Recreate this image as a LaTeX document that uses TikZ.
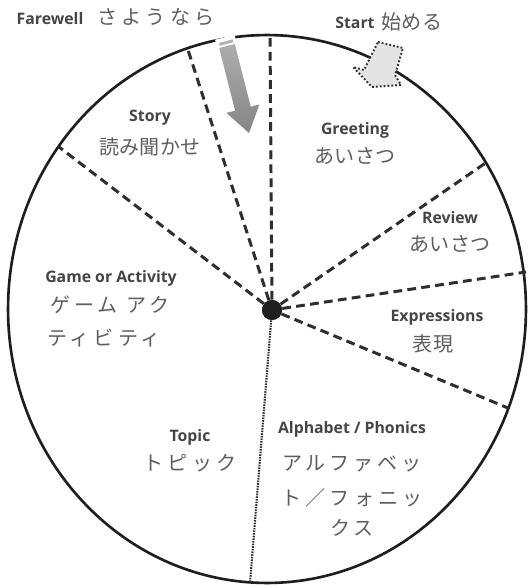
\documentclass[tikz,border=0pt]{standalone}
\usepackage{fontspec}
\setmainfont{Open Sans}
\newfontfamily\jpfont{Noto Sans CJK JP}
\newfontfamily\jpwide[LetterSpace=20]{Noto Sans CJK JP}
\definecolor{entext}{HTML}{454545}
\definecolor{jptext}{HTML}{5E5E5E}
\definecolor{linec}{HTML}{2E2E2E}
\definecolor{rimc}{HTML}{1E1E1E}
\begin{document}
\begin{tikzpicture}[x=0.02cm,y=-0.02cm,
  en/.style={font=\fontsize{9}{11}\selectfont\bfseries, text=entext, inner sep=0pt},
  jp/.style={font=\fontsize{11.4}{13}\selectfont\jpfont, text=jptext, inner sep=0pt},
  jpw/.style={font=\fontsize{11.4}{13}\selectfont\jpwide, text=jptext, inner sep=0pt},
  divider/.style={draw=linec, line width=1.7pt, dash pattern=on 5pt off 3pt},
  fineline/.style={draw=linec, line width=1.2pt, dash pattern=on 0.9pt off 0.6pt},
  rim/.style={draw=rimc, line width=1.5pt},
  hub/.style={circle, fill=rimc, minimum size=0.4cm, inner sep=0pt},
  startarrow/.style={fill=black!11, draw=linec, line width=1.1pt, dash pattern=on 1pt off 1.2pt},
  farearrow/.style={top color=black!32, bottom color=black!48, draw=none}]
\useasboundingbox (0,0) rectangle (528,587);
\fill[white] (0,0) rectangle (528,587);
% rim
\draw[rim] (267,309) ellipse [x radius=5.18cm, y radius=5.48cm];
% hub and rim points
\node[hub] (c) at (272,310) {};
\coordinate (e1) at (270,35);
\coordinate (e2) at (188,50);
\coordinate (e3) at (59,147);
\coordinate (e4) at (487,162);
\coordinate (e5) at (526,272);
\coordinate (e6) at (508,408);
\coordinate (e7) at (250,583);
\draw[divider] (c) -- (e1);
\draw[divider] (c) -- (e2);
\draw[divider] (c) -- (e3);
\draw[divider] (c) -- (e4);
\draw[divider] (c) -- (e5);
\draw[divider] (c) -- (e6);
\draw[fineline] (c) -- (e7);
\node[hub] at (272,310) {};
% start arrow
\draw[startarrow] (378,42) -- (403,48) -- (395,75) -- (401,85) -- (372,87) -- (353,67) -- (364,70) -- cycle;
% farewell arrow
\fill[white] (234.5,34.8) -- (215.1,39.7) -- (217.5,49.4) -- (236.9,44.5) -- cycle;
\fill[black!30] (232.6,39.4) -- (219.0,42.9) -- (219.7,45.8) -- (233.3,42.3) -- cycle;
\shade[farearrow] (234.8,44.0) -- (250.7,106.7) -- (259.4,104.5) -- (249,133) -- (226.4,112.9) -- (235.1,110.7) -- (219.2,48.0) -- cycle;
% labels
\node[en] (farewellen) at (50,19) {Farewell};
\node[jpw] (farewelljp) at (156,17) {さようなら};
\node[en] (starten) at (355,23) {Start};
\node[jp] (startjp) at (412,22) {始める};
\node[en] (storyen) at (150,118) {Story};
\node[jp] (storyjp) at (150,147) {読み聞かせ};
\node[en] (greeten) at (355,130) {Greeting};
\node[jp] (greetjp) at (355,156) {あいさつ};
\node[en] (reviewen) at (450,218) {Review};
\node[jp] (reviewjp) at (450,244) {あいさつ};
\node[en] (expren) at (437,317) {Expressions};
\node[jp] (exprjp) at (433,344) {表現};
\node[en] (gameen) at (111,278) {Game or Activity};
\node[jpw] (gamejp1) at (110,305) {ゲーム アク};
\node[jpw] (gamejp2) at (104,338) {ティビティ};
\node[en] (topicen) at (190,437) {Topic};
\node[jpw] (topicjp) at (190,463) {トピック};
\node[en] (alphaen) at (352,429) {Alphabet / Phonics};
\node[jpw] (alphajp1) at (352,464) {アルファベッ};
\node[jpw] (alphajp2) at (352,498) {ト／フォニッ};
\node[jpw] (alphajp3) at (352,528) {クス};
\end{tikzpicture}
\end{document}
